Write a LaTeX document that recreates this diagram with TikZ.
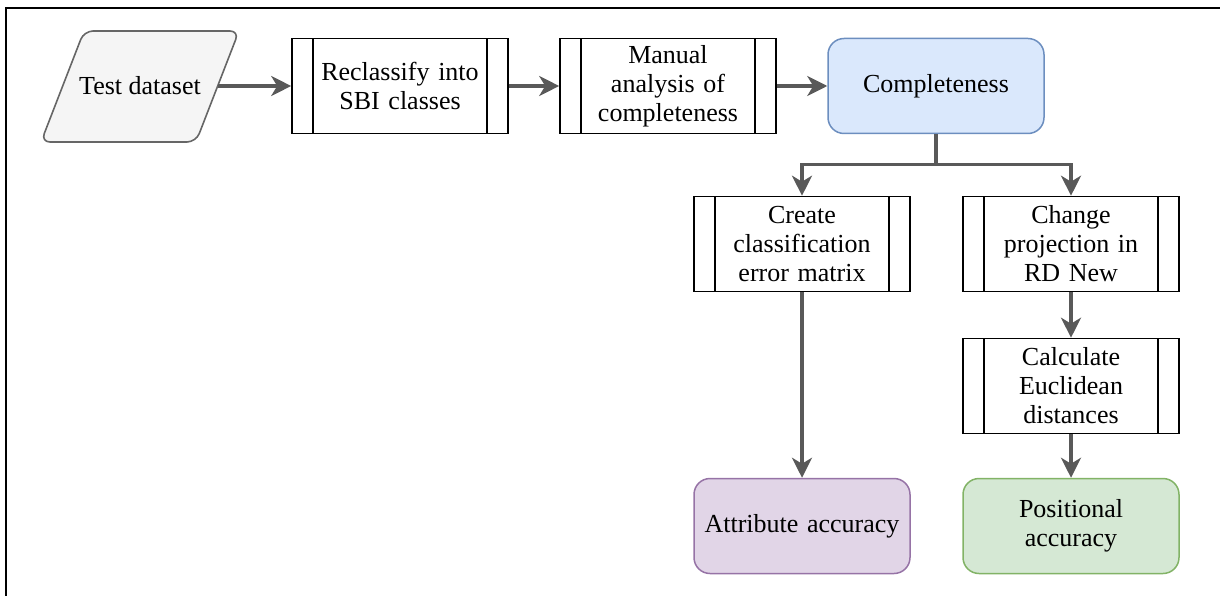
\documentclass[tikz,border=0pt]{standalone}
\usepackage{fontspec}
\setmainfont{Liberation Serif}
\newfontfamily\tnrfont{LiberationSerif-Regular.ttf}
\usetikzlibrary{arrows.meta}
\definecolor{arr}{HTML}{595959}
\definecolor{tdfill}{HTML}{F5F5F5}
\definecolor{tdline}{HTML}{666666}
\definecolor{bluefill}{HTML}{DAE8FC}
\definecolor{blueline}{HTML}{6C8EBF}
\definecolor{purfill}{HTML}{E1D5E7}
\definecolor{purline}{HTML}{9673A6}
\definecolor{grnfill}{HTML}{D5E8D4}
\definecolor{grnline}{HTML}{82B366}
\begin{document}
\begin{tikzpicture}[x=1pt,y=-1pt,
  txt/.style={font=\tnrfont\fontsize{26}{29}\selectfont, align=center},
  proc/.style={txt, draw=black, line width=1.6pt, fill=white,
    minimum width=216pt, minimum height=95pt, inner sep=0pt, text width=172pt,
    path picture={
      \draw[line width=1.6pt] ([xshift=21pt]path picture bounding box.north west) -- ([xshift=21pt]path picture bounding box.south west);
      \draw[line width=1.6pt] ([xshift=-21pt]path picture bounding box.north east) -- ([xshift=-21pt]path picture bounding box.south east);}},
  rbox/.style={txt, rounded corners=16pt, line width=1.5pt,
    minimum width=216pt, minimum height=95pt, inner sep=0pt, text width=205pt},
  conn/.style={draw=arr, line width=3.2pt, -{Stealth[length=20pt,width=20pt,inset=6pt]}}
]
\useasboundingbox (0,0) rectangle (1220,596);
% frame
\draw[line width=2.5pt] (6,596) -- (6,8) -- (1220,8);
% test dataset
\draw[rounded corners=9pt, fill=tdfill, draw=tdline, line width=1.6pt]
  (84,31) -- (239,31) -- (196,142) -- (41,142) -- cycle;
\node[txt] (td) at (140,86) {Test dataset};
\coordinate (tdR) at (218,86);
% top row
\node[proc] (rc) at (400,86) {Reclassify into\\SBI classes};
\node[proc] (ma) at (668,86) {Manual\\analysis of\\completeness};
\node[rbox, fill=bluefill, draw=blueline] (co) at (936,86) {Completeness};
% middle
\node[proc] (cr) at (802,244) {Create\\classification\\error matrix};
\node[proc] (ch) at (1071,244) {Change\\projection in\\RD New};
\node[proc] (ca) at (1071,386) {Calculate\\Euclidean\\distances};
% bottom
\node[rbox, fill=purfill, draw=purline] (aa) at (802,526) {Attribute accuracy};
\node[rbox, fill=grnfill, draw=grnline] (pa) at (1071,526) {Positional\\accuracy};
% connectors
\draw[conn] (tdR) -- (rc.west);
\draw[conn] (rc.east) -- (ma.west);
\draw[conn] (ma.east) -- (co.west);
\draw[conn] (co.south) -- ++(0,30) -| (cr.north);
\draw[conn] (co.south) -- ++(0,30) -| (ch.north);
\draw[conn] (ch.south) -- (ca.north);
\draw[conn] (ca.south) -- (pa.north);
\draw[conn] (cr.south) -- (aa.north);
\end{tikzpicture}
\end{document}
